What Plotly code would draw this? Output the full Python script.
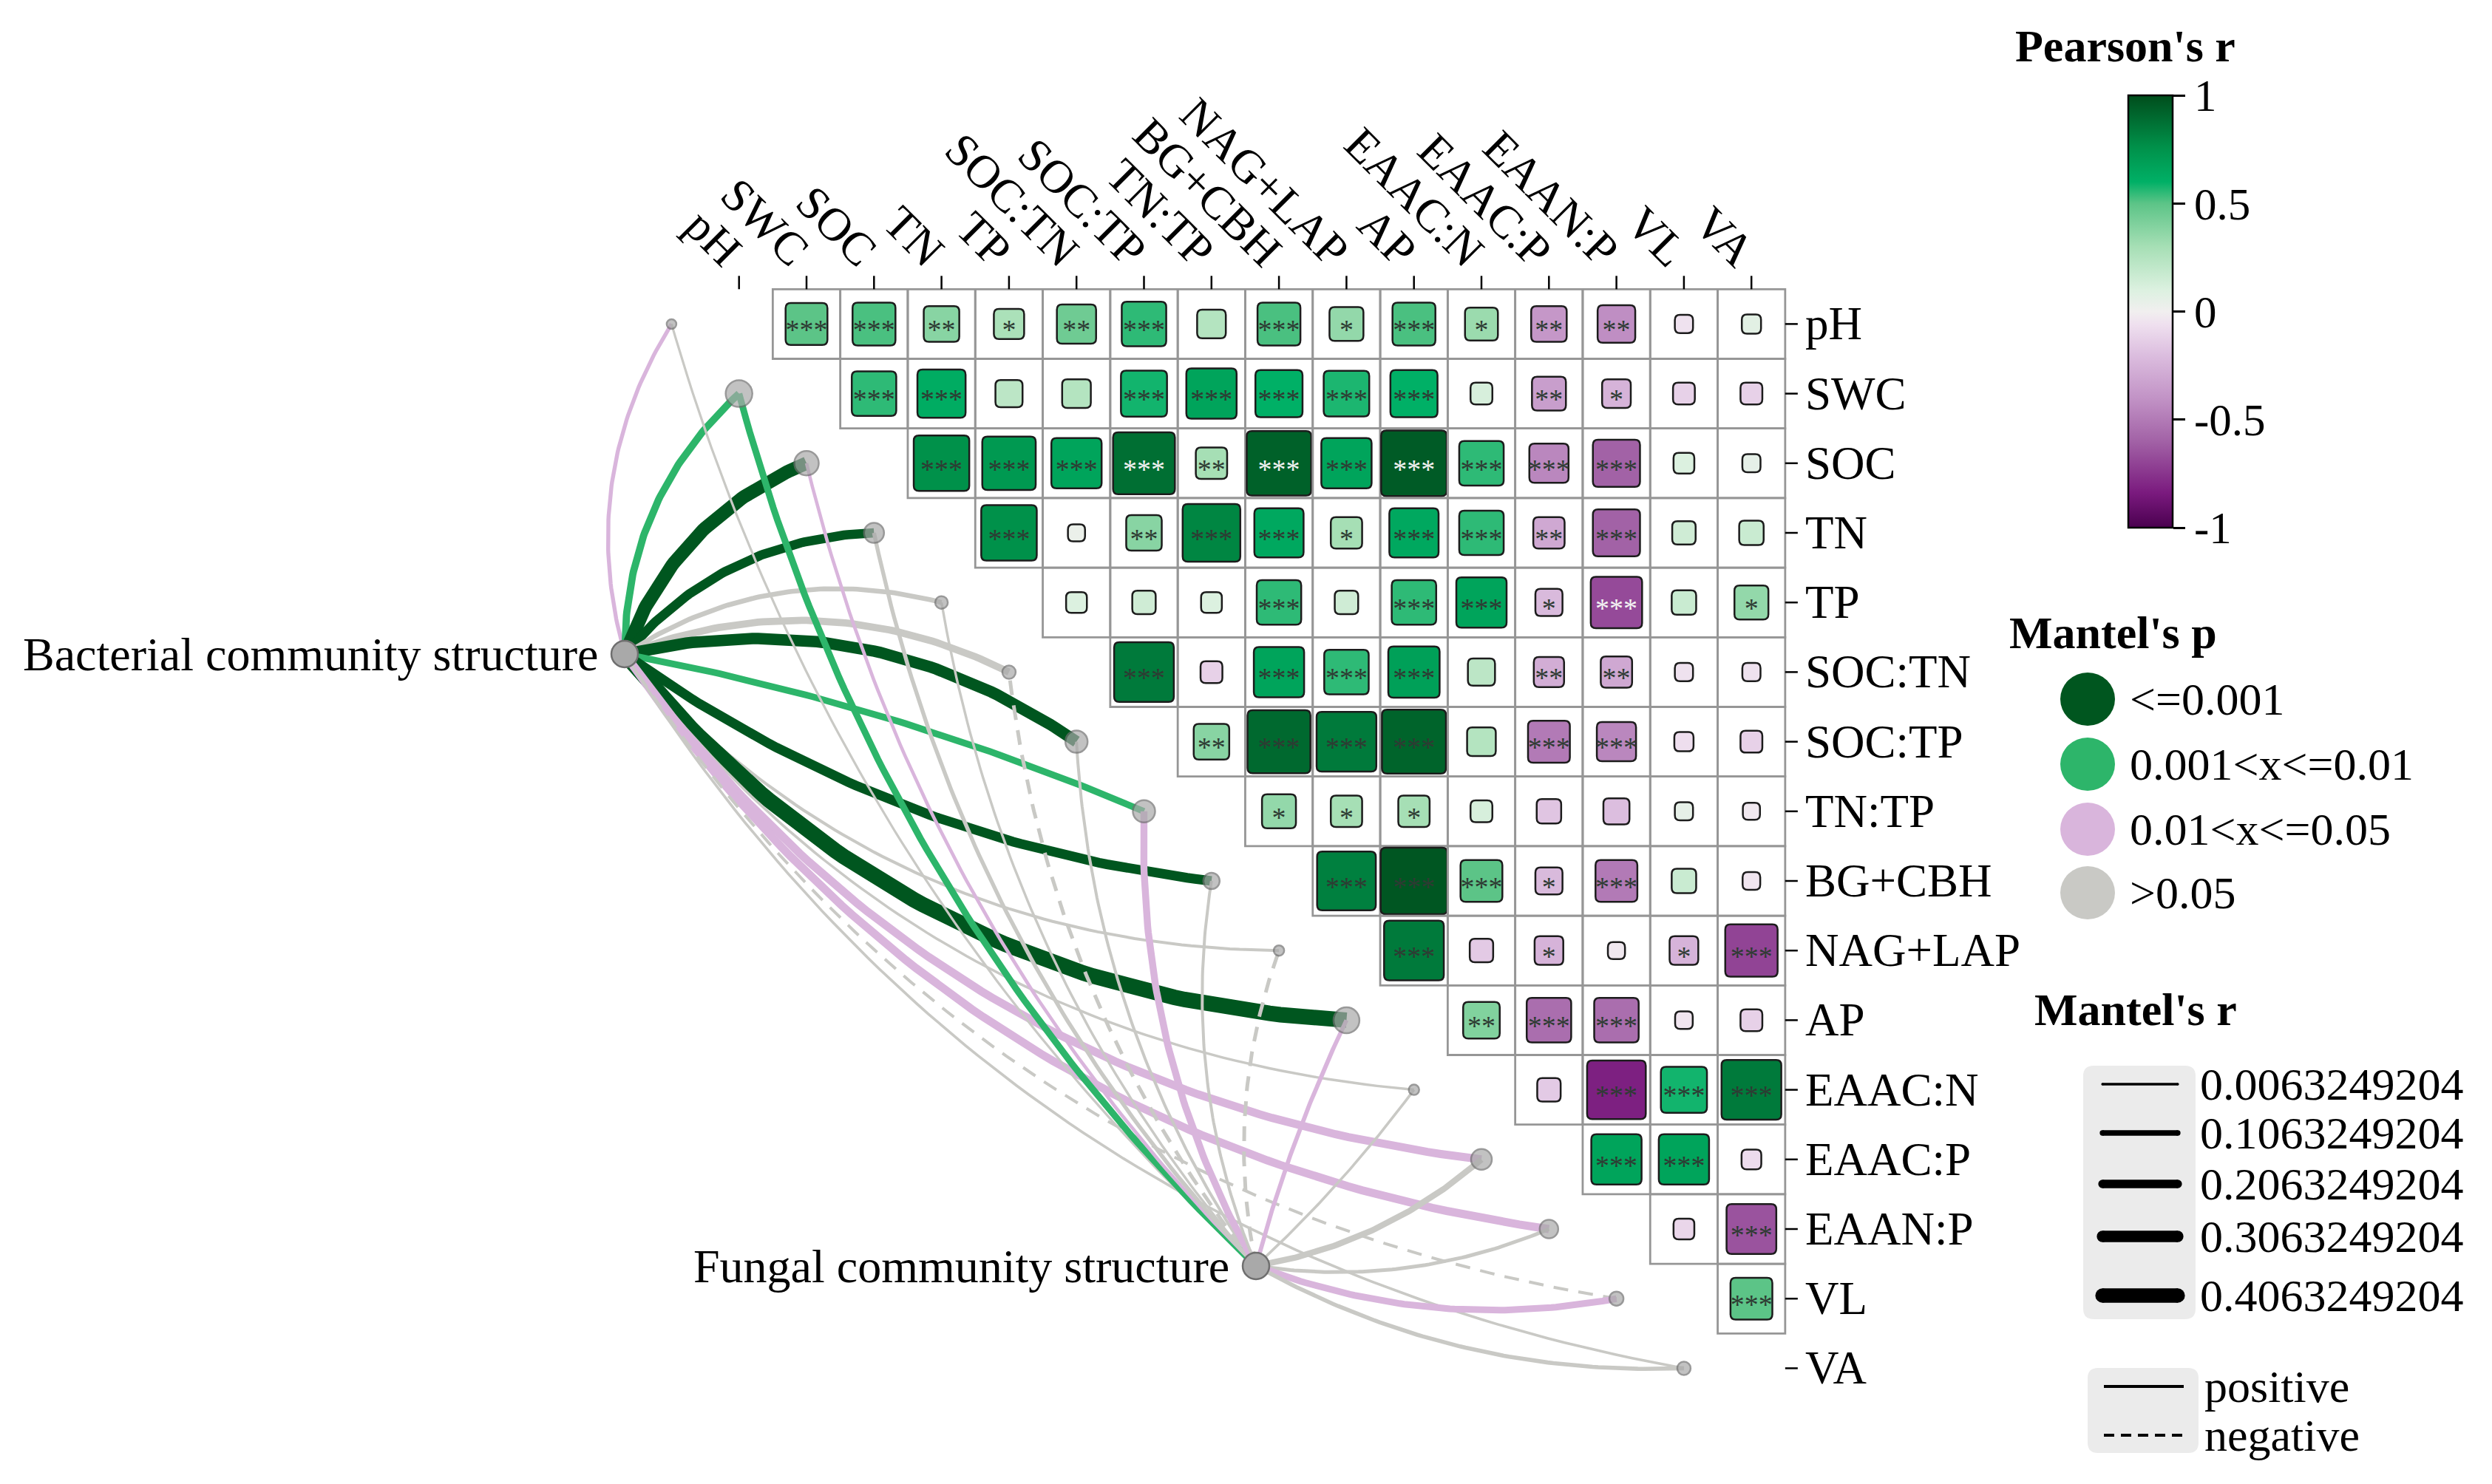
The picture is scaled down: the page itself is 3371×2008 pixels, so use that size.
import numpy as np
import plotly.graph_objects as go
from plotly.colors import sample_colorscale

# ---------------- DATA ----------------
variables = ["pH", "SWC", "SOC", "TN", "TP", "SOC:TN", "SOC:TP", "TN:TP", "BG+CBH",
             "NAG+LAP", "AP", "EAAC:N", "EAAC:P", "EAAN:P", "VL", "VA"]

# Pearson's r, upper triangle: row i holds columns i+1 .. 15
pearson_rows = [
    [0.50, 0.52, 0.38, 0.28, 0.45, 0.55, 0.25, 0.52, 0.35, 0.52, 0.33, -0.38, -0.42, -0.05, 0.07],
    [0.55, 0.62, 0.22, 0.25, 0.58, 0.66, 0.60, 0.57, 0.60, 0.12, -0.35, -0.25, -0.12, -0.12],
    [0.76, 0.72, 0.66, 0.88, 0.30, 0.93, 0.66, 0.95, 0.55, -0.45, -0.60, 0.10, 0.05],
    [0.76, 0.03, 0.38, 0.80, 0.64, 0.30, 0.64, 0.55, -0.30, -0.60, 0.15, 0.17],
    [0.10, 0.15, 0.10, 0.55, 0.15, 0.55, 0.66, -0.22, -0.68, 0.17, 0.35],
    [0.84, -0.12, 0.66, 0.55, 0.68, 0.22, -0.28, -0.30, -0.05, -0.05],
    [0.38, 0.90, 0.84, 0.92, 0.25, -0.50, -0.45, -0.07, -0.12],
    [0.35, 0.30, 0.30, 0.12, -0.17, -0.20, 0.05, -0.03],
    [0.82, 0.97, 0.50, -0.22, -0.50, 0.17, -0.04],
    [0.84, -0.15, -0.25, -0.03, -0.25, -0.70],
    [0.40, -0.55, -0.55, -0.04, -0.12],
    [-0.15, -0.82, 0.58, 0.84],
    [0.66, 0.66, -0.08],
    [-0.10, -0.65],
    [0.50],
]
signif_rows = [
    ["***", "***", "**", "*", "**", "***", "", "***", "*", "***", "*", "**", "**", "", ""],
    ["***", "***", "", "", "***", "***", "***", "***", "***", "", "**", "*", "", ""],
    ["***", "***", "***", "***", "**", "***", "***", "***", "***", "***", "***", "", ""],
    ["***", "", "**", "***", "***", "*", "***", "***", "**", "***", "", ""],
    ["", "", "", "***", "", "***", "***", "*", "***", "", "*"],
    ["***", "", "***", "***", "***", "", "**", "**", "", ""],
    ["**", "***", "***", "***", "", "***", "***", "", ""],
    ["*", "*", "*", "", "", "", "", ""],
    ["***", "***", "***", "*", "***", "", ""],
    ["***", "", "*", "", "*", "***"],
    ["**", "***", "***", "", ""],
    ["", "***", "***", "***"],
    ["***", "***", ""],
    ["", "***"],
    ["***"],
]
light_label_cells = [("SOC", "SOC:TP"), ("SOC", "BG+CBH"), ("SOC", "AP"), ("TP", "EAAN:P")]

hubs = ["Bacterial community structure", "Fungal community structure"]
mantel_r = {
    hubs[0]: [0.06, 0.17, 0.375, 0.24, 0.09, 0.17, 0.315, 0.15, 0.25, 0.025, 0.45, 0.012, 0.20, 0.20, 0.025, 0.015],
    hubs[1]: [0.005, 0.15, 0.04, 0.06, 0.01, 0.05, 0.025, 0.16, 0.025, 0.05, 0.07, 0.015, 0.13, 0.05, 0.15, 0.065],
}
mantel_p = {
    hubs[0]: ["0.01<x<=0.05", "0.001<x<=0.01", "<=0.001", "<=0.001", ">0.05", ">0.05", "<=0.001",
              "0.001<x<=0.01", "<=0.001", ">0.05", "<=0.001", ">0.05", "0.01<x<=0.05",
              "0.01<x<=0.05", ">0.05", ">0.05"],
    hubs[1]: [">0.05", "0.001<x<=0.01", "0.01<x<=0.05", ">0.05", ">0.05", ">0.05", ">0.05",
              "0.01<x<=0.05", ">0.05", ">0.05", "0.01<x<=0.05", ">0.05", ">0.05", ">0.05",
              "0.01<x<=0.05", ">0.05"],
}
mantel_sign = {
    hubs[0]: ["positive"] * 14 + ["negative", "positive"],
    hubs[1]: ["positive"] * 5 + ["negative"] + ["positive"] * 3 + ["negative"] + ["positive"] * 6,
}
p_levels = ["<=0.001", "0.001<x<=0.01", "0.01<x<=0.05", ">0.05"]
r_breaks = [0.0063249204, 0.1063249204, 0.2063249204, 0.3063249204, 0.4063249204]

# ---------------- STYLE / LAYOUT ----------------
W, H = 3371, 2008
X0, DX = 991.7, 91.3     # pixel of column 0 centre, pixel per column
Y0, DY = 430.4, 94.2     # pixel of row 0 centre, pixel per row
FONT = "Liberation Serif"
FS = 63
p_colors = {"<=0.001": "#00561f", "0.001<x<=0.01": "#2db56a",
            "0.01<x<=0.05": "#d9b5dc", ">0.05": "#c9c9c5"}
colorscale = [[0.0, "#4a004f"], [0.08, "#7a1a7e"], [0.2, "#a262a6"], [0.3, "#c293c6"],
              [0.4, "#dcbedf"], [0.47, "#efe0ef"], [0.5, "#f1efef"], [0.55, "#dcf1e0"],
              [0.65, "#a6dfb5"], [0.75, "#5cc487"], [0.8, "#00b066"], [0.88, "#00914a"],
              [1.0, "#004d1c"]]
node_diam = [13, 36, 33, 27, 17, 18, 30, 30, 22, 14, 35, 14, 28, 25, 19, 18]
hub_px = {hubs[0]: (837, 877), hubs[1]: (1691, 1705)}
# row index where the bend of the links flips side, peak bend, ramp width
hub_bend = {hubs[0]: (7.3, 0.11, 1.2), hubs[1]: (10.5, 0.07, 1.5)}


def to_data(px, py):
    return (px - X0) / DX, (py - Y0) / DY


def to_px(x, y):
    return X0 + DX * x, Y0 + DY * y


def lw(r):
    return 3 + 40 * r


n = len(variables)
fig = go.Figure()
shapes = []
annotations = []

# ---------- links ----------
for hub in hubs:
    hx, hy = hub_px[hub]
    thr, kmax, ramp = hub_bend[hub]
    for i, v in enumerate(variables):
        nx, ny = to_px(i - 1, i)
        dx, dy = nx - hx, ny - hy
        L = np.hypot(dx, dy)
        nrm = np.array([dy, -dx]) / L          # left-hand normal (screen, y down)
        dist = thr - i
        side = 1.0 if dist > 0 else -1.0
        k = kmax * min(1.0, abs(dist) / ramp)
        ctrl = np.array([(hx + nx) / 2, (hy + ny) / 2]) + side * 2 * k * L * nrm
        t = np.linspace(0, 1, 80)
        bx = (1 - t) ** 2 * hx + 2 * (1 - t) * t * ctrl[0] + t ** 2 * nx
        by = (1 - t) ** 2 * hy + 2 * (1 - t) * t * ctrl[1] + t ** 2 * ny
        xs, ys = to_data(bx, by)
        fig.add_trace(go.Scatter(
            x=xs, y=ys, mode="lines", hoverinfo="skip", showlegend=False,
            line=dict(color=p_colors[mantel_p[hub][i]], width=lw(mantel_r[hub][i]),
                      dash="solid" if mantel_sign[hub][i] == "positive" else "20px,14px")))

# ---------- nodes ----------
fig.add_trace(go.Scatter(
    x=[i - 1 for i in range(n)], y=list(range(n)), mode="markers", hoverinfo="skip",
    showlegend=False,
    marker=dict(size=node_diam, color="#a9a9a9", line=dict(color="#6f6f6f", width=2.5))))
hxs, hys = zip(*[to_data(*hub_px[h]) for h in hubs])
fig.add_trace(go.Scatter(
    x=list(hxs), y=list(hys), mode="markers", hoverinfo="skip", showlegend=False,
    marker=dict(size=36, color="#a9a9a9", line=dict(color="#6f6f6f", width=2.5))))
for h, x, y in zip(hubs, hxs, hys):
    annotations.append(dict(x=x - 34 / DX, y=y, xref="x", yref="y", text=h, showarrow=False,
                            xanchor="right", yanchor="middle",
                            font=dict(family=FONT, size=64, color="black")))

# ---------- correlation matrix ----------
cx, cy, cr, ct, ccol = [], [], [], [], []
for i, row in enumerate(pearson_rows):
    for kk, r in enumerate(row):
        j = i + 1 + kk
        shapes.append(dict(type="rect", xref="x", yref="y", x0=j - 0.5, x1=j + 0.5,
                           y0=i - 0.5, y1=i + 0.5, layer="below",
                           line=dict(color="#969696", width=2.8)))
        f = 0.23 + 0.78 * abs(r)
        hxw = f * 0.5
        hyw = f * 0.5 * DX / DY
        rx, ry = 7 / DX, 7 / DY
        x0, x1, y0, y1 = j - hxw, j + hxw, i - hyw, i + hyw
        path = (f"M {x0 + rx},{y0} L {x1 - rx},{y0} Q {x1},{y0} {x1},{y0 + ry} "
                f"L {x1},{y1 - ry} Q {x1},{y1} {x1 - rx},{y1} L {x0 + rx},{y1} "
                f"Q {x0},{y1} {x0},{y1 - ry} L {x0},{y0 + ry} Q {x0},{y0} {x0 + rx},{y0} Z")
        fill = sample_colorscale(colorscale, [(r + 1) / 2])[0]
        shapes.append(dict(type="path", xref="x", yref="y", path=path, layer="below",
                           fillcolor=fill, line=dict(color="#1c1c1c", width=2.5)))
        cx.append(j)
        cy.append(i)
        cr.append(r)
        ct.append(signif_rows[i][kk])
        light = (variables[i], variables[j]) in light_label_cells
        ccol.append("#f2f2f2" if light else "#2e3b33")

fig.add_trace(go.Scatter(
    x=cx, y=[v + 0.12 for v in cy], mode="text", text=ct, hoverinfo="skip", showlegend=False,
    textfont=dict(family=FONT, size=38, color=ccol)))

# colour bar host
fig.add_trace(go.Scatter(
    x=cx, y=cy, mode="markers", hoverinfo="skip", showlegend=False,
    marker=dict(size=1, opacity=0, color=cr, colorscale=colorscale, cmin=-1, cmax=1,
                showscale=True,
                colorbar=dict(x=2871 / W, xanchor="left", y=1 - 121 / H, yanchor="top",
                              len=585 / H, lenmode="fraction", thickness=60,
                              thicknessmode="pixels", outlinewidth=2.5, outlinecolor="black",
                              ticks="outside", ticklen=16, tickwidth=2.5, tickcolor="black",
                              tickvals=[-1, -0.5, 0, 0.5, 1],
                              ticktext=["-1", "-0.5", "0", "0.5", "1"],
                              tickfont=dict(family=FONT, size=61, color="black"),
                              xpad=0, ypad=0))))

# axis ticks and labels
for j, v in enumerate(variables):
    shapes.append(dict(type="line", xref="x", yref="y", x0=j, x1=j, y0=-0.5,
                       y1=-0.5 - 18 / DY, line=dict(color="black", width=2.5)))
    annotations.append(dict(x=j + 20 / DX, y=-0.5 - 14 / DY, xref="x", yref="y", text=v,
                            showarrow=False, textangle=45, xanchor="right",
                            yanchor="bottom", font=dict(family=FONT, size=FS, color="black")))
for i, v in enumerate(variables):
    shapes.append(dict(type="line", xref="x", yref="y", x0=15.5, x1=15.5 + 17 / DX,
                       y0=i, y1=i, line=dict(color="black", width=2.5)))
    annotations.append(dict(x=15.5 + 25 / DX, y=i, xref="x", yref="y", text=v,
                            showarrow=False, xanchor="left", yanchor="middle",
                            font=dict(family=FONT, size=FS, color="black")))

# ---------- legends ----------
def pap(px, py):
    return px / W, 1 - py / H


def legend_title(text, px, py):
    x, y = pap(px, py)
    annotations.append(dict(x=x, y=y, xref="paper", yref="paper", text=f"<b>{text}</b>",
                            showarrow=False, xanchor="left", yanchor="middle",
                            font=dict(family=FONT, size=62, color="black")))


def legend_text(text, px, py, size=62):
    x, y = pap(px, py)
    annotations.append(dict(x=x, y=y, xref="paper", yref="paper", text=text,
                            showarrow=False, xanchor="left", yanchor="middle",
                            font=dict(family=FONT, size=size, color="black")))


legend_title("Pearson's r", 2716, 54)
legend_title("Mantel's p", 2708, 848)
for lev, py in zip(p_levels, [938, 1026, 1114, 1200]):
    x0, y0 = pap(2816 - 37, py - 36)
    x1, y1 = pap(2816 + 37, py + 36)
    shapes.append(dict(type="circle", xref="paper", yref="paper", x0=x0, x1=x1, y0=y0, y1=y1,
                       fillcolor=p_colors[lev], line=dict(width=0)))
    legend_text(lev, 2871, py)

legend_title("Mantel's r", 2742, 1358)


def rounded_box(px0, py0, px1, py1, rad=14):
    x0, y1 = pap(px0, py0)
    x1, y0 = pap(px1, py1)
    rx, ry = rad / W, rad / H
    path = (f"M {x0 + rx},{y0} L {x1 - rx},{y0} Q {x1},{y0} {x1},{y0 + ry} "
            f"L {x1},{y1 - ry} Q {x1},{y1} {x1 - rx},{y1} L {x0 + rx},{y1} "
            f"Q {x0},{y1} {x0},{y1 - ry} L {x0},{y0 + ry} Q {x0},{y0} {x0 + rx},{y0} Z")
    shapes.append(dict(type="path", xref="paper", yref="paper", path=path,
                       fillcolor="#ebebeb", line=dict(width=0), layer="below"))


rounded_box(2810, 1434, 2962, 1777)
for rb, py in zip(r_breaks, [1459, 1525, 1594, 1665, 1745]):
    xa, ya = to_data(2836, py)
    xb, _ = to_data(2938, py)
    w = lw(rb)
    fig.add_trace(go.Scatter(x=[xa, xb], y=[ya, ya], mode="lines+markers", hoverinfo="skip",
                             showlegend=False, line=dict(color="black", width=w),
                             marker=dict(size=w, color="black", line=dict(width=0))))
    legend_text(f"{rb:.10f}", 2966, py)

rounded_box(2816, 1843, 2966, 1958)
for dash, py, lab in [("solid", 1868, "positive"), ("14px,9px", 1934, "negative")]:
    xa, ya = to_data(2838, py)
    xb, _ = to_data(2946, py)
    fig.add_trace(go.Scatter(x=[xa, xb], y=[ya, ya], mode="lines", hoverinfo="skip",
                             showlegend=False, line=dict(color="black", width=4, dash=dash)))
    legend_text(lab, 2972, py)

xr = [(0 - X0) / DX, (W - X0) / DX]
yr = [(H - Y0) / DY, (0 - Y0) / DY]
fig.update_layout(
    width=W, height=H, autosize=False, margin=dict(l=0, r=0, t=0, b=0, pad=0),
    paper_bgcolor="white", plot_bgcolor="white", showlegend=False,
    xaxis=dict(range=xr, visible=False, fixedrange=True),
    yaxis=dict(range=yr, visible=False, fixedrange=True),
    shapes=shapes, annotations=annotations,
)
fig.write_html("out.html")
